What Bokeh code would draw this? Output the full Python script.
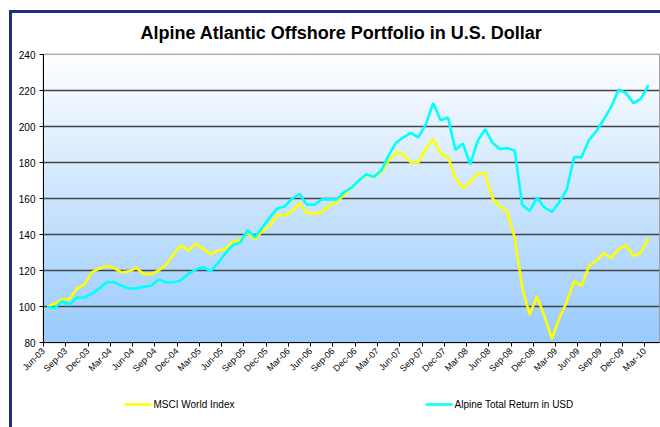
import numpy as np
from bokeh.plotting import figure
from bokeh.layouts import column
from bokeh.models import Range1d, FixedTicker, InlineStyleSheet
from bokeh.core.properties import value
from bokeh.embed import file_html
from bokeh.resources import INLINE

title_text = "Alpine Atlantic Offshore Portfolio in U.S. Dollar"

tick_labels = ["Jun-03", "Sep-03", "Dec-03", "Mar-04", "Jun-04", "Sep-04", "Dec-04",
               "Mar-05", "Jun-05", "Sep-05", "Dec-05", "Mar-06", "Jun-06", "Sep-06",
               "Dec-06", "Mar-07", "Jun-07", "Sep-07", "Dec-07", "Mar-08", "Jun-08",
               "Sep-08", "Dec-08", "Mar-09", "Jun-09", "Sep-09", "Dec-09", "Mar-10"]

msci = [100, 101.5, 104, 104, 110, 112, 119, 121, 122.5, 121.5, 119, 119.5,
        121.5, 118, 118, 120, 123, 129, 134, 131, 135, 132, 129, 131,
        132, 136, 137, 141, 137.5, 142, 145, 151, 150.5, 153, 157.5, 152,
        151.5, 152.5, 156, 158, 162, 166, 170, 173, 172, 174.5, 181, 185.5,
        184.5, 180, 180, 187.5, 193, 185, 183, 171.5, 166, 169, 174, 174,
        160, 155.5, 153, 138, 110.5, 95.5, 105.5, 94.5, 82, 93.5, 102.5, 114,
        111.5, 122.5, 125.5, 129.5, 127, 132, 134, 128, 130, 138]

alpine = [100, 99, 103, 101, 105, 105, 107, 110, 113.5, 113.5, 111.5, 110,
          110, 111, 111.5, 115, 113.5, 113.5, 114.5, 118, 120.5, 122, 119.5, 124,
          129.5, 134, 135.5, 142.5, 138.5, 144, 149.5, 154.5, 155.5, 160, 162.5, 156.5,
          156.5, 159.5, 159.5, 159.5, 163.5, 166, 170, 173.5, 172, 175.5, 184, 191,
          194, 196.5, 194, 201, 213, 203.5, 205, 187, 190.5, 179, 192, 198.5,
          191, 187.5, 188, 186.5, 156.5, 153, 160.5, 155, 152.5, 158, 165, 183,
          183, 192.5, 197.5, 204, 211, 220.5, 218.5, 213, 215.5, 223]

series_names = ["MSCI World Index", "Alpine Total Return in USD"]
series_colors = ["#FFFF00", "#00FFFF"]

n_cats = 83
y_min, y_max = 80, 240

xs = [i + 0.5 for i in range(len(msci))]
tick_pos = [3 * k for k in range(len(tick_labels))]


def strip(height):
    f = figure(width=660, height=height, output_backend="svg", toolbar_location=None,
               x_range=Range1d(43, 659), y_range=Range1d(height, 0),
               x_axis_location=None, y_axis_location=None,
               min_border=0, min_border_left=0, min_border_right=0,
               min_border_top=0, min_border_bottom=0)
    f.grid.visible = False
    f.outline_line_color = None
    f.background_fill_color = "#FFFFFF"
    f.border_fill_color = "#FFFFFF"
    return f


# title strip
top = strip(44)
top.text(x=[341], y=[32], text=[title_text], text_font=value("Liberation Sans"),
         text_font_size="18px", text_font_style="bold", text_align="center",
         text_baseline="middle", text_color="#000000")

p = figure(width=660, height=346, output_backend="svg", toolbar_location=None,
           x_range=Range1d(0, n_cats), y_range=Range1d(y_min, y_max),
           min_border_left=43, min_border_right=1, min_border_top=10,
           min_border_bottom=48)

# gradient background of plot area
rows = 256
t = np.linspace(0, 1, rows)  # 0 bottom, 1 top
bottom_c = np.array([153, 203, 253])
top_c = np.array([255, 255, 255])
img = np.zeros((rows, 1), dtype=np.uint32)
view = img.view(dtype=np.uint8).reshape((rows, 1, 4))
for r in range(rows):
    c = bottom_c + (top_c - bottom_c) * t[r]
    view[r, 0, 0] = int(c[0]); view[r, 0, 1] = int(c[1]); view[r, 0, 2] = int(c[2]); view[r, 0, 3] = 255
ir = p.image_rgba(image=[img], x=0, y=y_min, dw=n_cats, dh=y_max - y_min)
ir.level = "image"

p.line(xs, msci, line_color=series_colors[0], line_width=2.6)
p.line(xs, alpine, line_color=series_colors[1], line_width=2.6)

# axes
p.xaxis.ticker = FixedTicker(ticks=tick_pos)
p.xaxis.major_label_overrides = {pos: lab for pos, lab in zip(tick_pos, tick_labels)}
p.xaxis.major_label_orientation = np.pi / 4
p.xaxis.minor_tick_line_color = None
p.yaxis.ticker = FixedTicker(ticks=list(range(80, 241, 20)))
p.yaxis.minor_tick_line_color = None
for ax in (p.xaxis, p.yaxis):
    ax.axis_line_color = "#000000"
    ax.major_tick_line_color = "#000000"
    ax.major_tick_out = 4
    ax.major_tick_in = 0
    ax.major_label_text_font = "Liberation Sans"
    ax.major_label_text_color = "#000000"
p.xaxis.major_label_text_font_size = "9px"
p.yaxis.major_label_text_font_size = "10px"
p.xaxis.major_label_standoff = 3
p.yaxis.major_label_standoff = 4

p.xgrid.grid_line_color = None
p.ygrid.grid_line_color = "#454545"
p.ygrid.grid_line_width = 1.7
p.outline_line_color = "#8C8C8C"
p.outline_line_width = 1.5
p.background_fill_color = "#FFFFFF"
p.border_fill_color = "#FFFFFF"

# legend strip
leg = strip(37)
leg_x = [124, 425]
leg_y = [14, 14]
leg.segment(x0=leg_x, y0=leg_y, x1=[x + 27 for x in leg_x], y1=leg_y,
            line_color=series_colors, line_width=2.6)
leg.text(x=[x + 29 for x in leg_x], y=leg_y, text=series_names,
         text_font=value("Liberation Sans"), text_font_size="10px",
         text_baseline="middle", text_align="left", text_color="#000000")

layout = column(top, p, leg, spacing=0, stylesheets=[InlineStyleSheet(css=(
    ":host::after { content: ''; position: absolute; left: 9px; top: 10px; right: 0px; bottom: 0px;"
    " border-left: 3px solid #1F2C86; border-top: 3px solid #1F2C86; pointer-events: none; }"))])

open("out.html", "w").write(file_html(layout, INLINE))
